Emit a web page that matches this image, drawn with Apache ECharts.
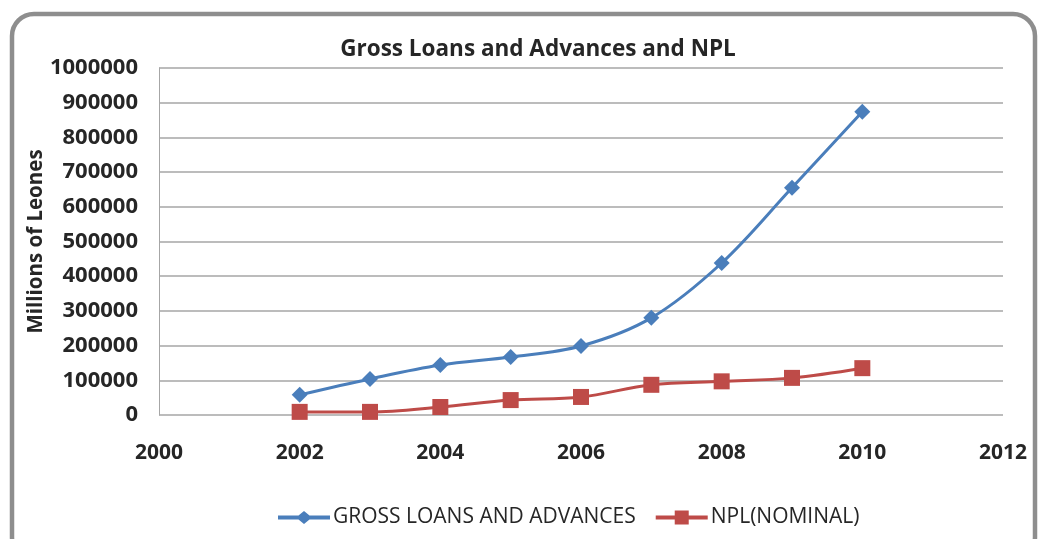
<!DOCTYPE html>
<html>
<head>
<meta charset="utf-8">
<script src="https://cdn.jsdelivr.net/npm/echarts@6/dist/echarts.min.js"></script>
<style>
  html, body { margin: 0; padding: 0; background: #fff; }
  #chart { width: 1039px; height: 539px; }
</style>
</head>
<body>
<div id="chart"></div>
<script>
// Years and values (millions of Leones)
const years = [2002, 2003, 2004, 2005, 2006, 2007, 2008, 2009, 2010];
const grossLoans = [58000, 104000, 144000, 167000, 199000, 280000, 438000, 655000, 874000];
const nplNominal = [9000, 9000, 23000, 43000, 52000, 87000, 97000, 107000, 135000];
const seriesNames = ['GROSS LOANS AND ADVANCES', 'NPL(NOMINAL)'];

const pairs = (xs, ys) => xs.map((x, i) => [x, ys[i]]);

// Legend keys: a thick line with the series marker in the middle (52 x 14 box)
const keyDiamond = 'path://M0,5L20.5,5L26,0.5L31.5,5L52,5L52,9L31.5,9L26,13.5L20.5,9L0,9Z';
const keySquare = 'path://M0,5L19,5L19,0L33,0L33,5L52,5L52,9L33,9L33,14L19,14L19,9L0,9Z';

const chart = echarts.init(document.getElementById('chart'), null, { renderer: 'canvas' });
const font = '"Open Sans", sans-serif';
const txt = '#262626';
const plain = v => String(v);

chart.setOption({
  animation: false,
  backgroundColor: '#fff',
  graphic: [{
    type: 'rect',
    shape: { x: 12, y: 14, width: 1023, height: 545, r: 22 },
    style: { fill: 'none', stroke: '#8e8e8e', lineWidth: 4.5 },
    z: -1
  }],
  title: {
    text: 'Gross Loans and Advances and NPL',
    left: 533, top: 33, textAlign: 'center',
    textStyle: { fontFamily: font, fontWeight: 'bold', fontSize: 22.5, color: txt }
  },
  legend: {
    bottom: 6, left: 273,
    itemWidth: 52, itemHeight: 14, itemGap: 20,
    textStyle: { fontFamily: font, fontSize: 21, color: txt, padding: [0, 0, 0, -2] },
    data: [
      { name: seriesNames[0], icon: keyDiamond },
      { name: seriesNames[1], icon: keySquare }
    ]
  },
  grid: { left: 159, right: 36, top: 68, bottom: 124 },
  xAxis: {
    type: 'value', min: 2000, max: 2012, interval: 2,
    axisLine: { show: false },
    axisTick: { show: false },
    splitLine: { show: false },
    axisLabel: { margin: 28, formatter: plain, fontFamily: font, fontWeight: 'bold', fontSize: 21, color: txt }
  },
  yAxis: {
    type: 'value', min: 0, max: 1000000, interval: 100000,
    name: 'Millions of Leones', nameLocation: 'middle', nameGap: 112, nameRotate: 90,
    nameMoveOverlap: false,
    nameTextStyle: { fontFamily: font, fontWeight: 'bold', fontSize: 20.5, color: txt },
    axisLine: { show: true, lineStyle: { color: '#a6a6a6', width: 1 } },
    axisTick: { show: false },
    splitLine: { show: true, lineStyle: { color: '#a6a6a6', width: 1.5 } },
    axisLabel: { margin: 21, formatter: plain, fontFamily: font, fontWeight: 'bold', fontSize: 22, color: txt }
  },
  series: [
    {
      name: seriesNames[0], type: 'line', smooth: 0.35,
      data: pairs(years, grossLoans),
      symbol: 'diamond', symbolSize: 16,
      lineStyle: { color: '#4a7ebb', width: 3 },
      itemStyle: { color: '#4a7ebb' }
    },
    {
      name: seriesNames[1], type: 'line', smooth: 0.35,
      data: pairs(years, nplNominal),
      symbol: 'rect', symbolSize: 16,
      lineStyle: { color: '#be4b48', width: 3 },
      itemStyle: { color: '#be4b48' }
    }
  ]
});
</script>
</body>
</html>
